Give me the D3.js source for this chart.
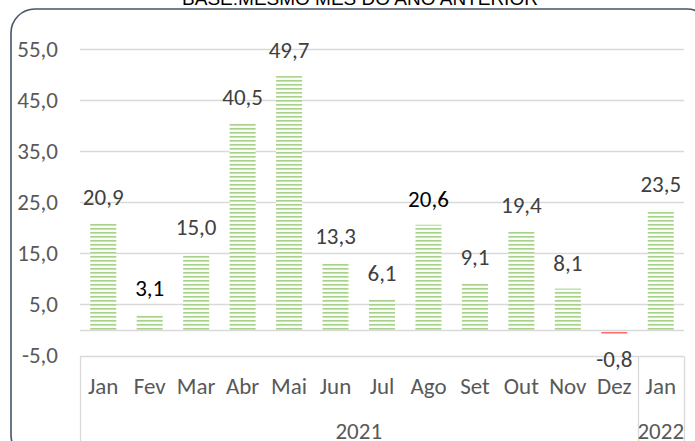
<!DOCTYPE html>
<html>
<head>
<meta charset="utf-8">
<script src="https://cdn.jsdelivr.net/npm/d3@7"></script>
<style>
  html, body { margin: 0; padding: 0; background: #fff; }
  svg { display: block; }
  .tick-label, .month, .year, .value { font-family: Carlito, Calibri, Lato, sans-serif; }
</style>
</head>
<body>
<svg id="chart"></svg>
<script>
//
// Data
//
const months = ['Jan', 'Fev', 'Mar', 'Abr', 'Mai', 'Jun', 'Jul', 'Ago', 'Set', 'Out', 'Nov', 'Dez', 'Jan'];
const years = ['2021', '2021', '2021', '2021', '2021', '2021', '2021', '2021', '2021', '2021', '2021', '2021', '2022'];
const values = [20.9, 3.1, 15.0, 40.5, 49.7, 13.3, 6.1, 20.6, 9.1, 19.4, 8.1, -0.8, 23.5];
const yTicks = [-5, 5, 15, 25, 35, 45, 55];
const darkLabels = [1, 7]; // the labels drawn in black
const title = 'BASE:MESMO MÊS DO ANO ANTERIOR';

//
// Set-up
//
const width = 695;
const height = 441;
const labelSize = '23px';
// comma decimals, plain hyphen for the minus
const fmt = v => d3.format('.1f')(v).replace('.', ',').replace('\u2212', '-');

const svg = d3.select('#chart')
  .attr('width', width)
  .attr('height', height);

// chart frame (rounded, runs off the page on the right and bottom)
svg.append('rect')
  .attr('x', 11).attr('y', 9)
  .attr('width', 700).attr('height', 450)
  .attr('rx', 24).attr('ry', 24)
  .style('fill', '#fff')
  .style('stroke', '#44546a')
  .style('stroke-width', 1.6);

// title, cut off at the top
svg.append('text')
  .attr('x', 360).attr('y', 5)
  .attr('text-anchor', 'middle')
  .style('font-family', 'Liberation Sans, Arial, sans-serif')
  .style('font-size', '19px')
  .style('fill', '#000')
  .text(title);

// patterns for the bars
const defs = svg.append('defs');
const addPattern = (id, c1, c2) => {
  const p = defs.append('pattern')
    .attr('id', id)
    .attr('patternUnits', 'userSpaceOnUse')
    .attr('width', 4).attr('height', 4);
  p.append('rect').attr('width', 4).attr('height', 4).style('fill', '#fbfdf9');
  p.append('rect').attr('y', 0).attr('width', 4).attr('height', 1).style('fill', c1);
  p.append('rect').attr('y', 1).attr('width', 4).attr('height', 1).style('fill', c2);
};
addPattern('greenStripes', '#a9d18e', '#c5e0b4');
addPattern('redStripes', '#ff6d6d', '#ffb3b3');

//
// Scales
//
const idx = d3.range(values.length);

const xScale = d3.scaleBand()
  .domain(idx)
  .range([80, 684])
  .paddingInner(0.44)
  .paddingOuter(0.22);

const yScale = d3.scaleLinear()
  .domain([-5, 55])
  .range([355.5, 49]);

// gridlines
svg.append('g')
  .selectAll('line')
  .data(yTicks)
  .enter().append('line')
    .attr('x1', 80).attr('x2', 684)
    .attr('y1', d => Math.round(yScale(d)) + 0.5)
    .attr('y2', d => Math.round(yScale(d)) + 0.5)
    .style('stroke', '#d9d9d9')
    .style('stroke-width', 1.3);

// y tick labels
svg.append('g')
  .selectAll('text')
  .data(yTicks)
  .enter().append('text')
    .attr('class', 'tick-label')
    .attr('x', 58)
    .attr('y', d => yScale(d))
    .attr('dy', '0.34em')
    .attr('text-anchor', 'end')
    .style('font-size', labelSize)
    .style('fill', '#595959')
    .text(fmt);

// bars
svg.append('g')
  .selectAll('rect')
  .data(idx)
  .enter().append('rect')
    .attr('x', i => xScale(i))
    .attr('width', xScale.bandwidth())
    .attr('y', i => yScale(Math.max(0, values[i])))
    .attr('height', i => Math.abs(yScale(values[i]) - yScale(0)))
    .style('fill', i => values[i] < 0 ? 'url(#redStripes)' : 'url(#greenStripes)');

// zero line
svg.append('line')
  .attr('x1', 80).attr('x2', 684)
  .attr('y1', Math.round(yScale(0)) + 0.5)
  .attr('y2', Math.round(yScale(0)) + 0.5)
  .style('stroke', '#d9d9d9')
  .style('stroke-width', 1.3);

// value labels
svg.append('g')
  .selectAll('text')
  .data(idx)
  .enter().append('text')
    .attr('class', 'value')
    .attr('x', i => xScale(i) + xScale.bandwidth() / 2)
    .attr('y', i => values[i] < 0 ? yScale(values[i]) + 33 : yScale(values[i]) - 18)
    .attr('text-anchor', 'middle')
    .style('font-size', labelSize)
    .style('fill', i => darkLabels.includes(i) ? '#000' : '#404040')
    .text(i => fmt(values[i]));

//
// Category axis (months, grouped by year)
//
const axisTop = Math.round(yScale(-5)) + 0.5;
const yearGroups = d3.groups(idx, i => years[i]);
const groupStart = g => xScale(g[1][0]) - xScale.step() * 0.22;
const groupEnd = g => xScale(g[1][g[1].length - 1]) + xScale.step() * 0.78;

// vertical dividers
const dividers = [80].concat(yearGroups.map(groupEnd));
svg.append('g')
  .selectAll('line')
  .data(dividers)
  .enter().append('line')
    .attr('x1', d => Math.round(d) + 0.5).attr('x2', d => Math.round(d) + 0.5)
    .attr('y1', axisTop).attr('y2', height)
    .style('stroke', '#d9d9d9')
    .style('stroke-width', 1.3);

svg.append('g')
  .selectAll('text')
  .data(idx)
  .enter().append('text')
    .attr('class', 'month')
    .attr('x', i => xScale(i) + xScale.bandwidth() / 2)
    .attr('y', 394)
    .attr('text-anchor', 'middle')
    .style('font-size', labelSize)
    .style('fill', '#595959')
    .text(i => months[i]);

svg.append('g')
  .selectAll('text')
  .data(yearGroups)
  .enter().append('text')
    .attr('class', 'year')
    .attr('x', g => (groupStart(g) + groupEnd(g)) / 2)
    .attr('y', 439)
    .attr('text-anchor', 'middle')
    .style('font-size', labelSize)
    .style('fill', '#595959')
    .text(g => g[0]);
</script>
</body>
</html>
